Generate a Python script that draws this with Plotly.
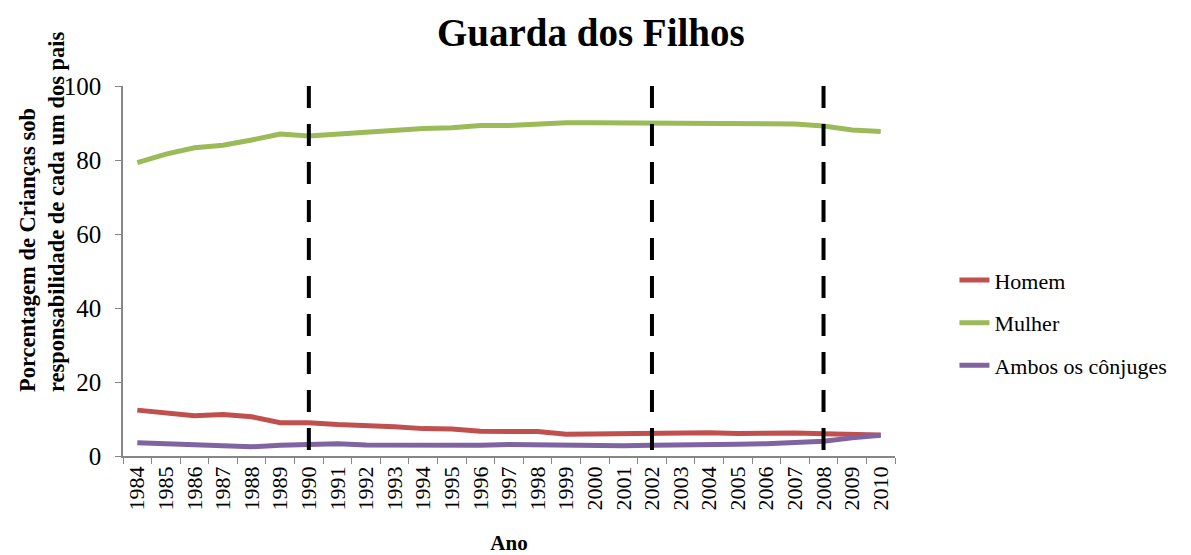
import plotly.graph_objects as go

anos = [str(y) for y in range(1984, 2011)]
homem = [12.4, 11.7, 10.9, 11.2, 10.6, 9.0, 9.0, 8.5, 8.3, 7.9, 7.4, 7.3, 6.7, 6.8,
         6.6, 5.9, 6.0, 5.9, 5.9, 6.1, 6.3, 6.1, 6.2, 6.2, 6.0, 5.9, 5.7]
mulher = [79.3, 81.6, 83.3, 84.0, 85.4, 87.0, 86.5, 87.0, 87.8, 88.1, 88.5, 88.7, 89.3, 89.3,
          89.7, 90.1, 90.1, 90.1, 90.1, 90.1, 90.0, 89.9, 89.8, 89.7, 89.2, 88.1, 87.7]
ambos = [3.6, 3.3, 3.2, 2.9, 2.5, 2.9, 3.2, 3.3, 3.0, 2.9, 3.1, 3.0, 2.9, 3.1,
         3.0, 2.8, 2.8, 2.8, 2.9, 2.9, 2.9, 3.2, 3.3, 3.5, 4.0, 4.9, 5.6]
marcos = ["1990", "2002", "2008"]
limites_y = [0, 100]

FONT = "Liberation Serif"

fig = go.Figure()
series = [("Homem", homem, "#C0504D"), ("Mulher", mulher, "#9BBB59"),
          ("Ambos os cônjuges", ambos, "#8064A2")]
for name, vals, col in series:
    fig.add_trace(go.Scatter(x=anos, y=vals, mode="lines", name=name, legendgroup=name,
                             line=dict(color=col, width=5)))

for m in marcos:
    fig.add_trace(go.Scatter(x=[m, m], y=limites_y[::-1], mode="lines", showlegend=False,
                             hoverinfo="skip",
                             line=dict(color="black", width=4, dash="22px,16px")))

fig.add_annotation(
    text="<b>Porcentagem de Crianças sob<br>responsabilidade de cada um dos pais</b>",
    xref="paper", yref="paper", x=-0.1043, y=0.1676, xanchor="center", yanchor="bottom",
    textangle=-90, align="left", showarrow=False,
    font=dict(family=FONT, size=22.5, color="black"))

fig.update_layout(
    width=1183, height=547,
    margin=dict(l=115, r=296, t=78, b=99),
    paper_bgcolor="white", plot_bgcolor="white",
    font=dict(family=FONT, size=20, color="black"),
    title=dict(text="<b>Guarda dos Filhos</b>", x=0.606, xanchor="center", xref="paper",
               y=0.956, yanchor="middle", font=dict(family=FONT, size=39)),
    showlegend=True,
    legend=dict(x=1.077, xanchor="left", y=0.36, yanchor="middle",
                traceorder="grouped", tracegroupgap=11,
                font=dict(family=FONT, size=22)),
    xaxis=dict(type="category", range=[-0.5, 26.5], showgrid=False, showline=True,
               automargin=False,
               linecolor="#868686", linewidth=1.5, ticks="outside", tickson="boundaries",
               ticklen=6, tickcolor="#868686", tickangle=-90,
               tickfont=dict(family=FONT, size=22),
               title=dict(text="<b>Ano</b>", font=dict(family=FONT, size=21), standoff=33)),
    yaxis=dict(range=limites_y, dtick=20, showgrid=False, showline=True, zeroline=False,
               automargin=False,
               linecolor="#868686", linewidth=1.5, ticks="outside", ticklen=6,
               tickcolor="#868686", tickfont=dict(family=FONT, size=25),
               ticklabelstandoff=9),
)

fig.write_html("out.html")
